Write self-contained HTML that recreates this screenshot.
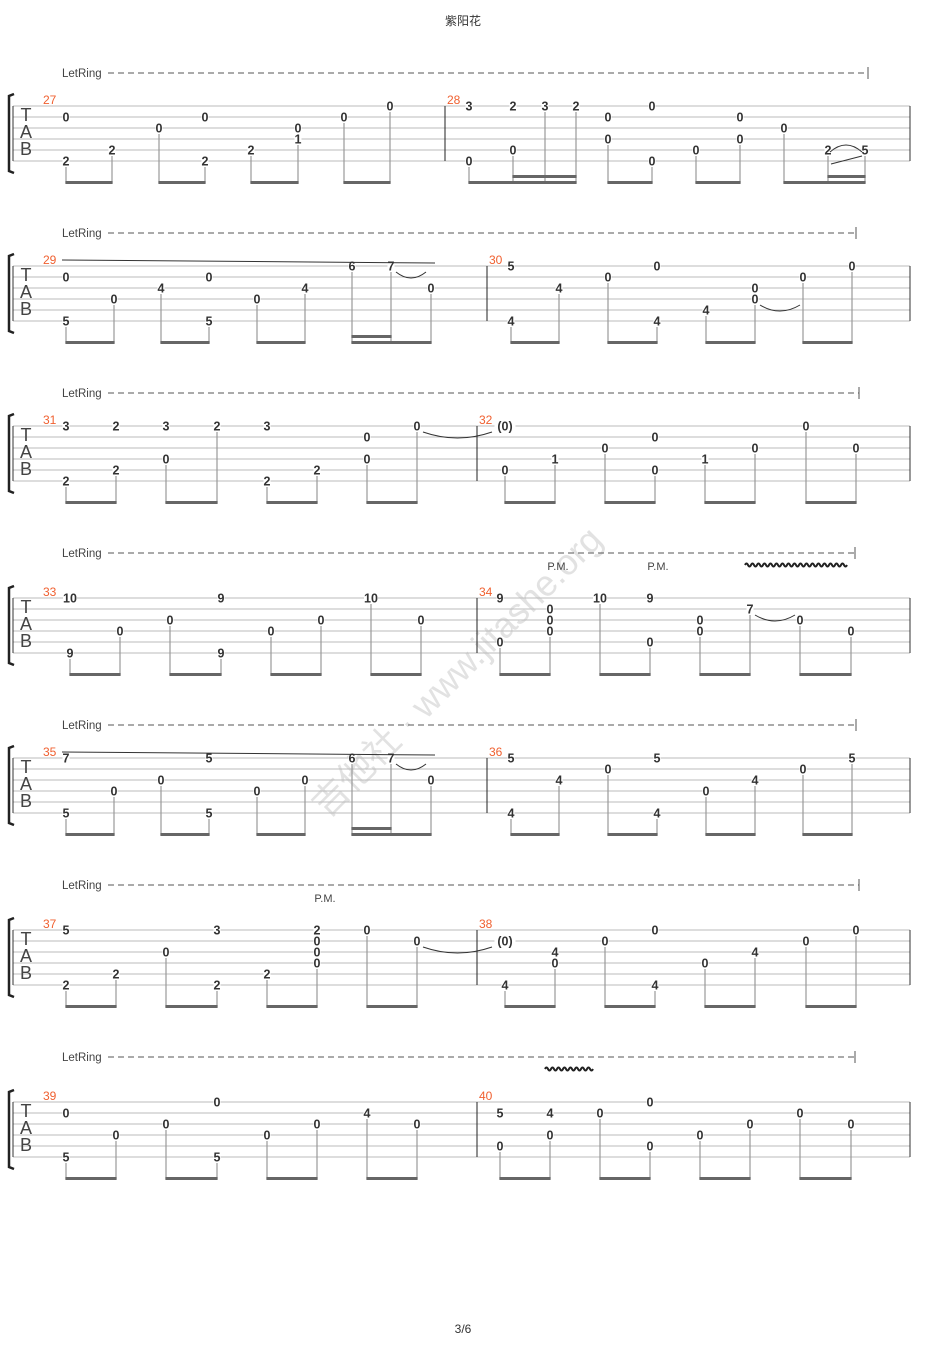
<!DOCTYPE html>
<html><head><meta charset="utf-8">
<style>
html,body{margin:0;padding:0;background:#fff;width:925px;height:1358px;overflow:hidden}
svg{display:block}
</style></head>
<body>
<svg id="s" width="925" height="1358" xmlns="http://www.w3.org/2000/svg" font-family="Liberation Sans, Noto Sans CJK SC, sans-serif">
<text x="463" y="25" font-size="12" text-anchor="middle" fill="#333">紫阳花</text>
<text x="463" y="1333" font-size="12" text-anchor="middle" fill="#333">3/6</text>
<text x="457" y="684" font-size="36" fill="#e2e2e2" text-anchor="middle" transform="rotate(-45 457 672)">吉他社 · www.jitashe.org</text>
<g id="g"></g>
</svg>
<script>
var sys=[
{y:106,m1:27,m2:28,bar:445,end:868,notes:[[66,[2,'0'],[6,'2']],[112,[5,'2']],[159,[3,'0']],[205,[2,'0'],[6,'2']],[251,[5,'2']],[298,[3,'0'],[4,'1']],[344,[2,'0']],[390,[1,'0']],
[469,[1,'3'],[6,'0']],[513,[1,'2'],[5,'0']],[545,[1,'3']],[576,[1,'2']],[608,[2,'0'],[4,'0']],[652,[1,'0'],[6,'0']],[696,[5,'0']],[740,[2,'0'],[4,'0']],[784,[3,'0']],[828,[5,'2']],[865,[5,'5']]],
beams:[[66,112],[159,205],[251,298],[344,390],[469,576],[608,652],[696,740],[784,865]],b2:[[513,576],[828,865]]},
{y:266,m1:29,m2:30,bar:487,end:856,notes:[[66,[2,'0'],[6,'5']],[114,[4,'0']],[161,[3,'4']],[209,[2,'0'],[6,'5']],[257,[4,'0']],[305,[3,'4']],[352,[1,'6']],[391,[1,'7']],[431,[3,'0']],
[511,[1,'5'],[6,'4']],[559,[3,'4']],[608,[2,'0']],[657,[1,'0'],[6,'4']],[706,[5,'4']],[755,[3,'0'],[4,'0']],[803,[2,'0']],[852,[1,'0']]],
beams:[[66,114],[161,209],[257,305],[352,431],[511,559],[608,657],[706,755],[803,852]],b2:[[352,391]],slide:1,ties:[[396,426,0],[760,800,3]]},
{y:426,m1:31,m2:32,bar:477,end:859,notes:[[66,[1,'3'],[6,'2']],[116,[1,'2'],[5,'2']],[166,[1,'3'],[4,'0']],[217,[1,'2']],[267,[1,'3'],[6,'2']],[317,[5,'2']],[367,[2,'0'],[4,'0']],[417,[1,'0']],
[505,[1,'(0)'],[5,'0']],[555,[4,'1']],[605,[3,'0']],[655,[2,'0'],[5,'0']],[705,[4,'1']],[755,[3,'0']],[806,[1,'0']],[856,[3,'0']]],
beams:[[66,116],[166,217],[267,317],[367,417],[505,555],[605,655],[705,755],[806,856]],b2:[],ties:[[423,492,0]]},
{y:598,lr:45,m1:33,m2:34,bar:477,end:855,notes:[[70,[1,'10'],[6,'9']],[120,[4,'0']],[170,[3,'0']],[221,[1,'9'],[6,'9']],[271,[4,'0']],[321,[3,'0']],[371,[1,'10']],[421,[3,'0']],
[500,[1,'9'],[5,'0']],[550,[2,'0'],[3,'0'],[4,'0']],[600,[1,'10']],[650,[1,'9'],[5,'0']],[700,[3,'0'],[4,'0']],[750,[2,'7']],[800,[3,'0']],[851,[4,'0']]],
beams:[[70,120],[170,221],[271,321],[371,421],[500,550],[600,650],[700,750],[800,851]],b2:[],ties:[[755,795,1]],pm:[558,658],vib:[745,843]},
{y:758,m1:35,m2:36,bar:487,end:856,notes:[[66,[1,'7'],[6,'5']],[114,[4,'0']],[161,[3,'0']],[209,[1,'5'],[6,'5']],[257,[4,'0']],[305,[3,'0']],[352,[1,'6']],[391,[1,'7']],[431,[3,'0']],
[511,[1,'5'],[6,'4']],[559,[3,'4']],[608,[2,'0']],[657,[1,'5'],[6,'4']],[706,[4,'0']],[755,[3,'4']],[803,[2,'0']],[852,[1,'5']]],
beams:[[66,114],[161,209],[257,305],[352,431],[511,559],[608,657],[706,755],[803,852]],b2:[[352,391]],slide:1,ties:[[396,426,0]]},
{y:930,lr:45,m1:37,m2:38,bar:477,end:859,notes:[[66,[1,'5'],[6,'2']],[116,[5,'2']],[166,[3,'0']],[217,[1,'3'],[6,'2']],[267,[5,'2']],[317,[1,'2'],[2,'0'],[3,'0'],[4,'0']],[367,[1,'0']],[417,[2,'0']],
[505,[2,'(0)'],[6,'4']],[555,[3,'4'],[4,'0']],[605,[2,'0']],[655,[1,'0'],[6,'4']],[705,[4,'0']],[755,[3,'4']],[806,[2,'0']],[856,[1,'0']]],
beams:[[66,116],[166,217],[267,317],[367,417],[505,555],[605,655],[705,755],[806,856]],b2:[],ties:[[423,492,1]],pm:[325]},
{y:1102,lr:45,m1:39,m2:40,bar:477,end:855,notes:[[66,[2,'0'],[6,'5']],[116,[4,'0']],[166,[3,'0']],[217,[1,'0'],[6,'5']],[267,[4,'0']],[317,[3,'0']],[367,[2,'4']],[417,[3,'0']],
[500,[2,'5'],[5,'0']],[550,[2,'4'],[4,'0']],[600,[2,'0']],[650,[1,'0'],[5,'0']],[700,[4,'0']],[750,[3,'0']],[800,[2,'0']],[851,[3,'0']]],
beams:[[66,116],[166,217],[267,317],[367,417],[500,550],[600,650],[700,750],[800,851]],b2:[],vib:[545,588]}
];
var h='';
sys.forEach(function(S){
 var y=S.y, lr=S.lr||33;
 h+='<text x="62" y="'+(y-lr+4)+'" font-size="11.5" fill="#444">LetRing</text>';
 h+='<line x1="108" y1="'+(y-lr)+'" x2="'+S.end+'" y2="'+(y-lr)+'" stroke="#555" stroke-width="1" stroke-dasharray="6,4"/>';
 h+='<line x1="'+S.end+'" y1="'+(y-lr-6)+'" x2="'+S.end+'" y2="'+(y-lr+6)+'" stroke="#555"/>';
 for(var i=0;i<6;i++) h+='<line x1="13" x2="910" y1="'+(y+i*11)+'" y2="'+(y+i*11)+'" stroke="#bbb" stroke-width="1"/>';
 h+='<line x1="13" x2="13" y1="'+y+'" y2="'+(y+55)+'" stroke="#333"/>';
 h+='<line x1="910" x2="910" y1="'+y+'" y2="'+(y+55)+'" stroke="#333"/>';
 h+='<path d="M14 '+(y-12)+' L9 '+(y-10)+' L9 '+(y+65)+' L14 '+(y+67)+'" fill="none" stroke="#222" stroke-width="2.5"/>';
 h+='<text x="26" y="'+(y+15)+'" font-size="18" text-anchor="middle" fill="#444">T</text>';
 h+='<text x="26" y="'+(y+32)+'" font-size="18" text-anchor="middle" fill="#444">A</text>';
 h+='<text x="26" y="'+(y+49)+'" font-size="18" text-anchor="middle" fill="#444">B</text>';
 h+='<line x1="'+S.bar+'" x2="'+S.bar+'" y1="'+y+'" y2="'+(y+55)+'" stroke="#222"/>';
 h+='<text x="43" y="'+(y-2)+'" font-size="12" fill="#f06030">'+S.m1+'</text>';
 h+='<text x="'+(S.bar+2)+'" y="'+(y-2)+'" font-size="12" fill="#f06030">'+S.m2+'</text>';
 var bot=y+77;
 S.notes.forEach(function(n){
  var x=n[0],low=0;
  for(var k=1;k<n.length;k++){low=Math.max(low,n[k][0]);}
  h+='<line x1="'+x+'" x2="'+x+'" y1="'+(y+(low-1)*11+6)+'" y2="'+bot+'" stroke="#999" stroke-width="1.2"/>';
  for(var k=1;k<n.length;k++){
   var s=n[k][0],t=n[k][1],ty=y+(s-1)*11,w=t.length*7;
   h+='<rect x="'+(x-w/2)+'" y="'+(ty-5)+'" width="'+w+'" height="10" fill="#fff"/>';
   h+='<text x="'+x+'" y="'+(ty+4.5)+'" font-size="12.5" font-weight="bold" text-anchor="middle" fill="#333">'+t+'</text>';
  }
 });
 S.beams.forEach(function(b){h+='<rect x="'+(b[0]-0.6)+'" y="'+(bot-2)+'" width="'+(b[1]-b[0]+1.2)+'" height="3" fill="#666"/>';});
 S.b2.forEach(function(b){h+='<rect x="'+(b[0]-0.6)+'" y="'+(bot-8)+'" width="'+(b[1]-b[0]+1.2)+'" height="3" fill="#666"/>';});
 if(S.slide){h+='<line x1="62" y1="'+(y-6)+'" x2="435" y2="'+(y-3)+'" stroke="#333" stroke-width="1"/>';}
 (S.ties||[]).forEach(function(t){var ty=y+t[2]*11+6;var mx=(t[0]+t[1])/2;
  h+='<path d="M'+t[0]+' '+ty+' Q'+mx+' '+(ty+12)+' '+t[1]+' '+ty+'" fill="none" stroke="#333" stroke-width="1"/>';});
 (S.pm||[]).forEach(function(p){h+='<text x="'+p+'" y="'+(y-28)+'" font-size="11" text-anchor="middle" fill="#444">P.M.</text>';});
 if(S.vib){var d='M'+S.vib[0]+' '+(y-33);for(var x=S.vib[0];x<S.vib[1];x+=6){d+=' q1.5 -3 3 0 q1.5 3 3 0';}
  h+='<path d="'+d+'" fill="none" stroke="#222" stroke-width="2"/>';}
});
h+='<line x1="831" y1="164" x2="862" y2="156" stroke="#333"/><path d="M830 152 Q846 138 862 152" fill="none" stroke="#333"/>';
document.getElementById('g').innerHTML=h;
</script>
</body></html>
